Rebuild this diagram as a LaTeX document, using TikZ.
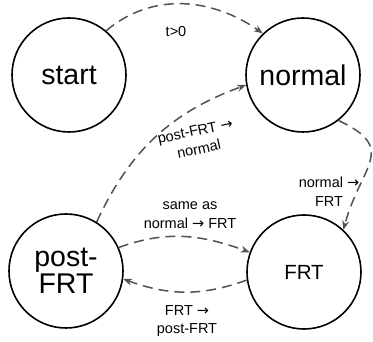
\documentclass[tikz,border=0pt]{standalone}
\usepackage{fontspec}
\setmainfont{Liberation Sans}
\newfontfamily\arrowfont{DejaVu Sans}
\newcommand{\tto}{{\arrowfont →}}
\usetikzlibrary{arrows.meta}

\begin{document}
\begin{tikzpicture}[x = 1pt, y = 1pt,
		state/.style = {circle, draw, line width = 1.6pt, minimum size = 114pt, inner sep = 0pt, align = center, font = \fontsize{28.5}{27}\selectfont},
		trans/.style = {draw = black!68, line width = 1.5pt, dash pattern = on 10pt off 6pt, -{Stealth[length = 9pt, width = 7pt]}},
		lbl/.style = {align = center, inner sep = 0pt, font = \fontsize{14.5}{18.5}\selectfont}]
		\useasboundingbox (0,0) rectangle (373,342);
		\node [state] (start) at (69,267) {start};
		\node [state] (normal) at (303,267) {normal};
		\node [state] (postfrt) at (66,71) {post-\\FRT};
		\node [state, font = \fontsize{20.5}{24}\selectfont] (frt) at (304,70) {FRT};
		\draw [trans] (start.50) to [out = 40, in = 145] (normal.134);
		\draw [trans] (normal.-52) to [out = -25, in = 75, looseness = 1.55] (frt.47);
		\draw [trans] (postfrt.58) to [out = 65, in = 200] (normal.190);
		\draw [trans] (postfrt.24) to [out = 20, in = 160] (frt.160);
		\draw [trans] (frt.188) to [out = 200, in = -20] (postfrt.-8);
		\node [lbl] (tpos) at (176,310) {t>0};
		\node [lbl] (normfrt) at (329,150) {normal \tto\\FRT};
		\node [lbl, rotate = 12] (postnorm) at (197,202) {post-FRT \tto\\normal};
		\node [lbl] (sameas) at (190,127) {same as\\normal \tto{} FRT};
		\node [lbl] (frtpost) at (187,21) {FRT \tto\\post-FRT};
%		\draw [help lines] (0,0) grid (373,342);
	\end{tikzpicture}
\end{document}
